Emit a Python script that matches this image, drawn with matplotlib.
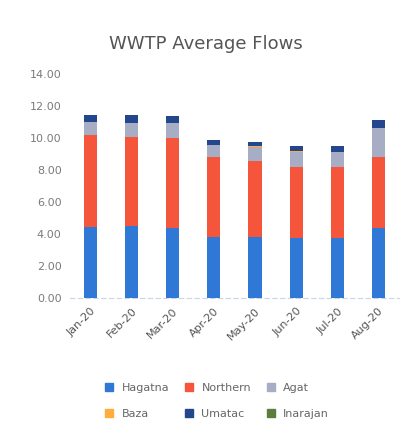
import matplotlib
matplotlib.use("Agg")
from matplotlib import pyplot as plt
from matplotlib.lines import Line2D
import numpy as np

months = ["Jan-20", "Feb-20", "Mar-20", "Apr-20", "May-20", "Jun-20", "Jul-20", "Aug-20"]
hagatna = [4.42, 4.50, 4.35, 3.83, 3.83, 3.77, 3.77, 4.35]
northern = [5.77, 5.58, 5.63, 5.00, 4.73, 4.44, 4.44, 4.48]
agat = [0.83, 0.88, 0.96, 0.73, 0.90, 0.94, 0.89, 1.77]
baza = [0.01, 0.01, 0.01, 0.01, 0.01, 0.01, 0.01, 0.01]
umatac = [0.38, 0.44, 0.42, 0.28, 0.27, 0.33, 0.38, 0.53]
inarajan = [0.01, 0.01, 0.01, 0.01, 0.01, 0.01, 0.01, 0.01]

series = [
    ("Hagatna", hagatna, "#2f78d6"),
    ("Northern", northern, "#f5553a"),
    ("Agat", agat, "#a7adc4"),
    ("Baza", baza, "#ffab3d"),
    ("Umatac", umatac, "#24468c"),
    ("Inarajan", inarajan, "#5e7d3c"),
]

fig = plt.figure(figsize=(4.11, 4.36), dpi=100)
ax = fig.add_axes([0.170, 0.317, 0.801, 0.513])

x = np.arange(len(months))
bottom = np.zeros(len(months))
for name, vals, col in series:
    ax.bar(x, vals, 0.32, bottom=bottom, color=col, label=name, zorder=3)
    bottom += np.array(vals)

ax.set_xlim(-0.5, len(months) - 0.5)
ax.set_ylim(0, 14)
ax.set_yticks(np.arange(0, 15, 2))
ax.set_yticklabels(["%.2f" % v for v in np.arange(0, 15, 2)], fontsize=8, color="#7a7a7a")
ax.set_xticks(x)
ax.set_xticklabels(months, rotation=45, ha="right", rotation_mode="anchor",
                   fontsize=8, color="#555555")
ax.tick_params(length=0, pad=6)
for s in ["top", "right", "left"]:
    ax.spines[s].set_visible(False)
ax.spines["bottom"].set_color("#c8d4ea")
ax.spines["bottom"].set_linestyle((0, (4, 3)))

fig.text(0.5, 0.90, "WWTP Average Flows", ha="center", va="center",
         fontsize=13, color="#555555")

handles = [Line2D([], [], marker="s", linestyle="", markersize=6, color=c) for _, _, c in series]
labels = [n for n, _, _ in series]
order = [0, 3, 1, 4, 2, 5]
fig.legend([handles[i] for i in order], [labels[i] for i in order],
           loc="center", bbox_to_anchor=(0.52, 0.08), ncol=3, frameon=False,
           fontsize=8, labelcolor="#666666", handletextpad=0.1, columnspacing=0.8,
           labelspacing=1.4)

fig.savefig("out.png", dpi=100)
